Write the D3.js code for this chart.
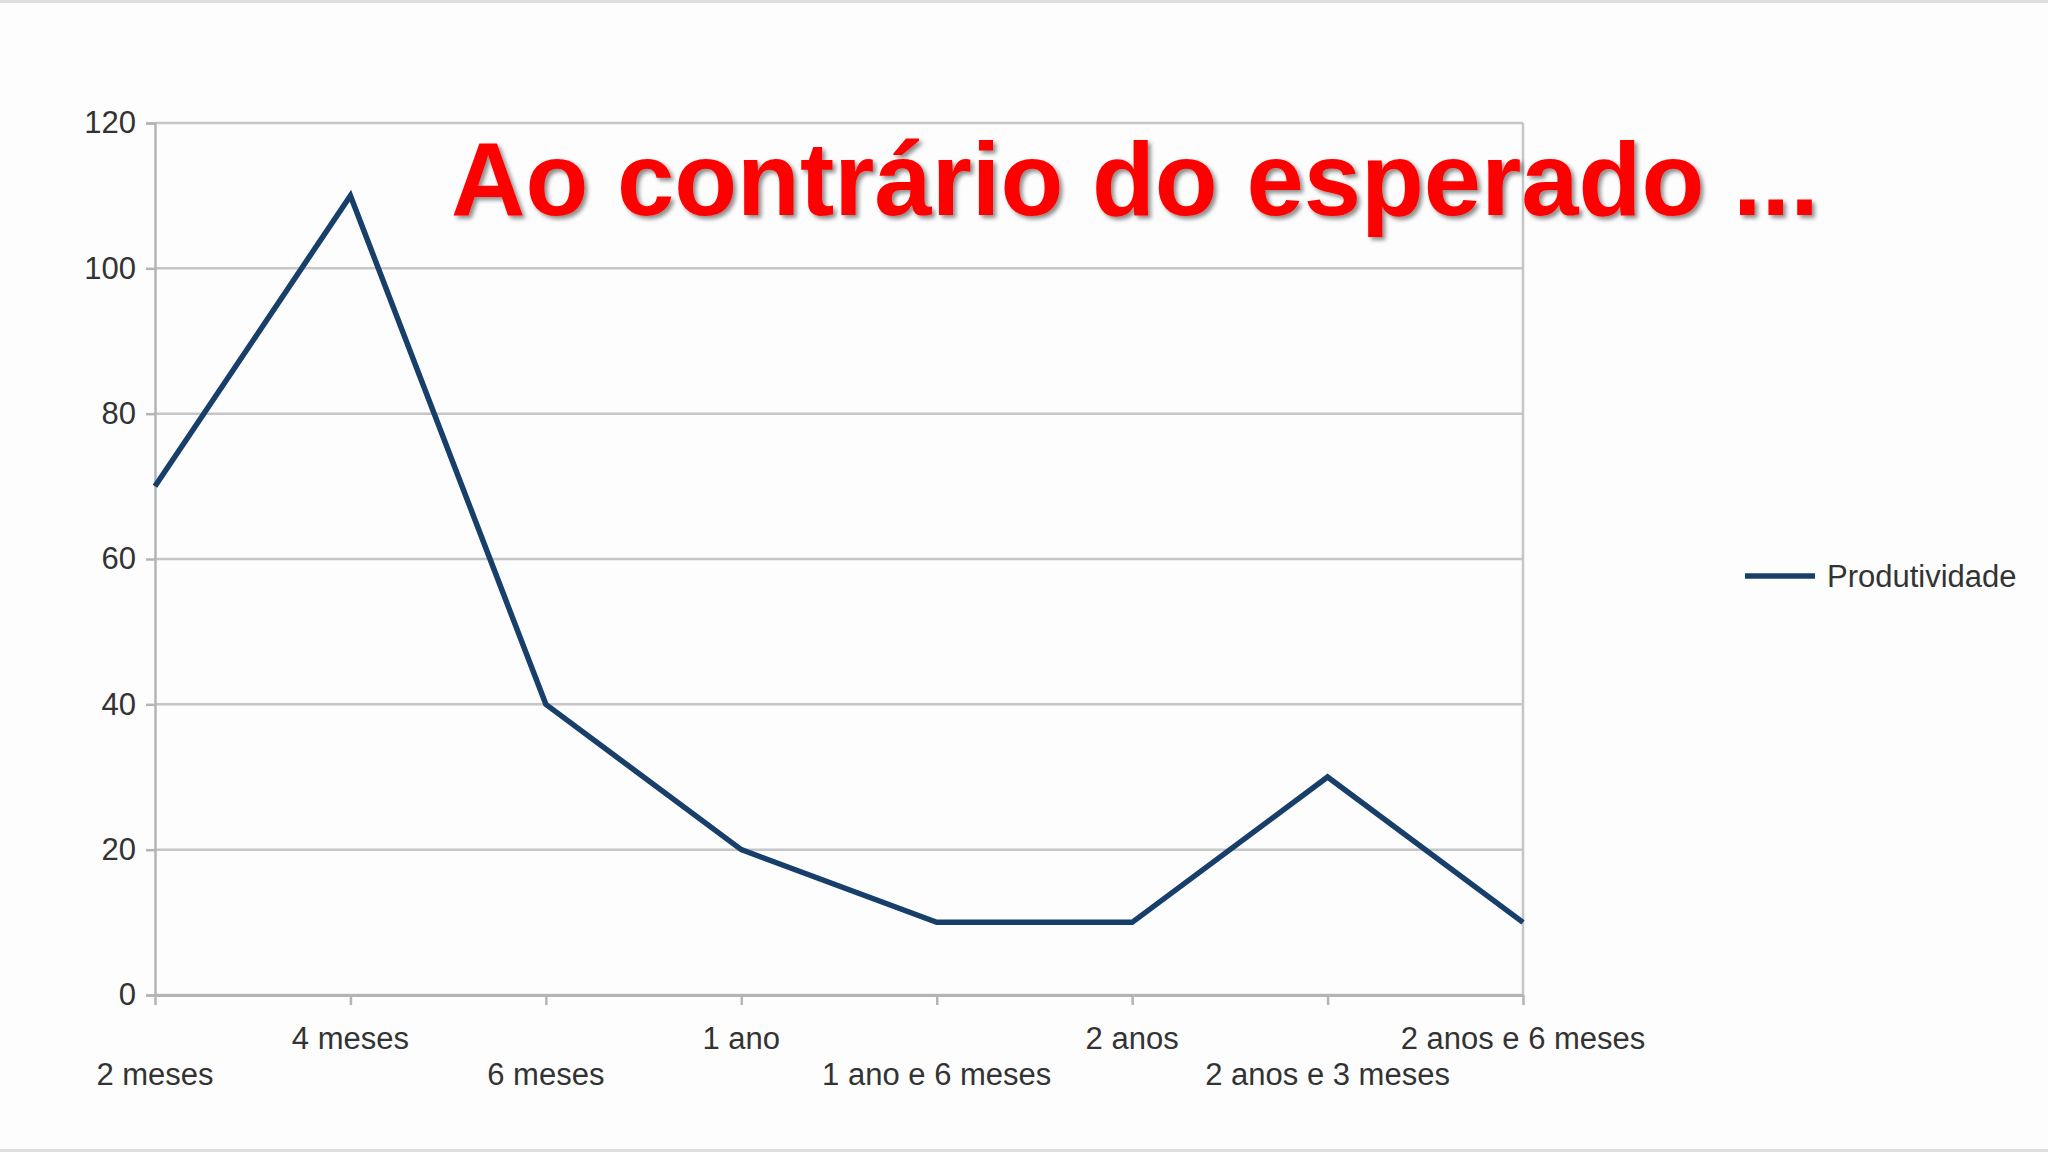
<!DOCTYPE html>
<html>
<head>
<meta charset="utf-8">
<script src="https://d3js.org/d3.v7.min.js"></script>
<style>
  html, body { margin: 0; padding: 0; background: #fdfdfd; }
  svg { display: block; }
</style>
</head>
<body>
<div id="chart"></div>
<script>
// data
var categories = ["2 meses", "4 meses", "6 meses", "1 ano", "1 ano e 6 meses", "2 anos", "2 anos e 3 meses", "2 anos e 6 meses"];
var produtividade = [70, 110, 40, 20, 10, 10, 30, 10];
var yTicks = [0, 20, 40, 60, 80, 100, 120];
var seriesName = "Produtividade";
var titleText = "Ao contrário do esperado ...";

var W = 2048, H = 1152;
var margin = {top: 123, right: 525, bottom: 157, left: 155},
    width = W - margin.left - margin.right,
    height = H - margin.top - margin.bottom;

var svg = d3.select("#chart")
  .append("svg")
  .attr("width", W)
  .attr("height", H);

// drop shadow for the title
var defs = svg.append("defs");
var f = defs.append("filter").attr("id", "shadow")
  .attr("x", "-5%").attr("y", "-20%").attr("width", "110%").attr("height", "140%");
f.append("feDropShadow")
  .attr("dx", 3).attr("dy", 3).attr("stdDeviation", 2)
  .attr("flood-color", "#000").attr("flood-opacity", 0.45);

// slide edges
svg.append("rect").attr("x", 0).attr("y", 0).attr("width", W).attr("height", 3).attr("fill", "#dedede");
svg.append("rect").attr("x", 0).attr("y", H - 3).attr("width", W).attr("height", 3).attr("fill", "#dedede");

var g = svg.append("g")
  .attr("transform", "translate(" + margin.left + "," + margin.top + ")");

var x = d3.scalePoint()
  .domain(categories)
  .range([0, width]);

var y = d3.scaleLinear()
  .domain([0, 120])
  .range([height, 0]);

var labelFont = "'Liberation Sans', Arial, sans-serif";

// horizontal grid
g.append("g")
  .selectAll("line")
  .data(yTicks)
  .enter().append("line")
  .attr("x1", 0)
  .attr("x2", width)
  .attr("y1", function(d) { return y(d); })
  .attr("y2", function(d) { return y(d); })
  .attr("stroke", "#c6c6c6")
  .attr("stroke-width", 2.5);

// right border of plot area
g.append("line")
  .attr("x1", width).attr("x2", width)
  .attr("y1", 0).attr("y2", height)
  .attr("stroke", "#c6c6c6")
  .attr("stroke-width", 2.5);

// Y axis
var yAxis = g.append("g")
  .call(d3.axisLeft(y).tickValues(yTicks).tickSize(9).tickPadding(10));
yAxis.select(".domain").attr("stroke", "#b4b4b4").attr("stroke-width", 2.5);
yAxis.selectAll(".tick line").attr("stroke", "#b4b4b4").attr("stroke-width", 2.5);
yAxis.selectAll("text")
  .attr("font-family", labelFont)
  .attr("font-size", 31)
  .attr("fill", "#333");

// X axis
var xAxis = g.append("g")
  .attr("transform", "translate(0," + height + ")")
  .call(d3.axisBottom(x).tickSize(10).tickSizeOuter(0).tickFormat(""));
xAxis.select(".domain").attr("stroke", "#b4b4b4").attr("stroke-width", 3);
xAxis.selectAll(".tick line").attr("stroke", "#b4b4b4").attr("stroke-width", 2.5);

// staggered category labels
g.append("g")
  .selectAll("text")
  .data(categories)
  .enter().append("text")
  .attr("x", function(d) { return x(d); })
  .attr("y", function(d, i) { return height + (i % 2 === 0 ? 79 : 43) + 11; })
  .attr("text-anchor", "middle")
  .attr("font-family", labelFont)
  .attr("font-size", 31)
  .attr("fill", "#333")
  .text(function(d) { return d; });

// the line
var line = d3.line()
  .x(function(d, i) { return x(categories[i]); })
  .y(function(d) { return y(d); });

g.append("path")
  .datum(produtividade)
  .attr("d", line)
  .attr("fill", "none")
  .attr("stroke", "#173f69")
  .attr("stroke-width", 5.5)
  .attr("stroke-linejoin", "miter");

// legend
var legend = svg.append("g").attr("transform", "translate(1745,576)");
legend.append("line")
  .attr("x1", 0).attr("x2", 70)
  .attr("y1", 0).attr("y2", 0)
  .attr("stroke", "#173f69")
  .attr("stroke-width", 5.5);
legend.append("text")
  .attr("x", 82)
  .attr("y", 11)
  .attr("font-family", labelFont)
  .attr("font-size", 31)
  .attr("fill", "#333")
  .text(seriesName);

// title overlay
svg.append("text")
  .attr("x", 451)
  .attr("y", 215)
  .attr("font-family", labelFont)
  .attr("font-weight", "bold")
  .attr("font-size", 103)
  .attr("fill", "#ff0000")
  .attr("filter", "url(#shadow)")
  .text(titleText);
</script>
</body>
</html>
